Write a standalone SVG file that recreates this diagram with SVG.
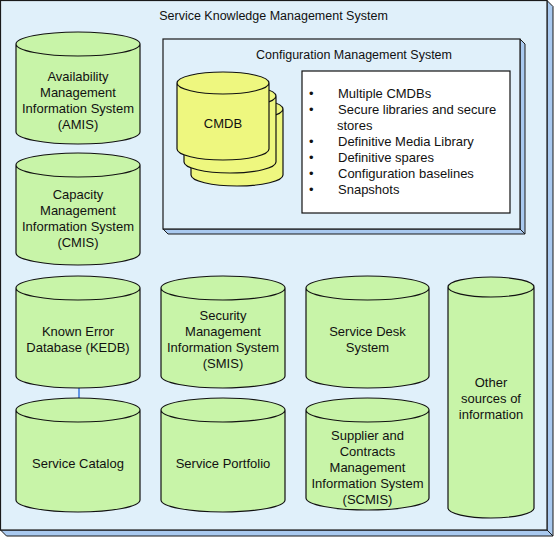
<svg xmlns="http://www.w3.org/2000/svg" width="554" height="537" viewBox="0 0 554 537">
<style>
.frame{fill:#e0f0fa;stroke:#1a1a1a;stroke-width:1.2}
.shadow{fill:#a9c9ef;stroke:#1a1a1a;stroke-width:1}
.cyl{fill:#c8f4a8;stroke:#111;stroke-width:1.2}
.ycyl{fill:#eef77f;stroke:#111;stroke-width:1.2}
.t{font-family:"Liberation Sans",Arial,sans-serif;font-size:13px;fill:#111;text-anchor:middle}
.h{font-family:"Liberation Sans",Arial,sans-serif;font-size:12.5px;fill:#111;text-anchor:middle}
.l{font-family:"Liberation Sans",Arial,sans-serif;font-size:13px;fill:#111}
.conn{stroke:#3a7ae0;stroke-width:1.5;fill:none}
</style>
<g id="skms">
<polygon class="shadow" points="547,0.5 553,6.5 553,536 547,530"/>
<polygon class="shadow" points="0.5,530 6.5,536 553,536 547,530"/>
<rect class="frame" x="0.5" y="0.5" width="546.5" height="529.5"/>
<text class="h" x="273.5" y="20">Service Knowledge Management System</text>
</g>
<g id="cms">
<polygon class="shadow" points="520,39 525,44 525,234 520,229"/>
<polygon class="shadow" points="163,229 168,234 525,234 520,229"/>
<rect class="frame" x="163" y="39" width="357" height="190"/>
<text class="h" x="354" y="59">Configuration Management System</text>
</g>
<g id="cmdb">
<path class="ycyl" d="M191,109 V175 A46,11 0 0 0 283,175 V109 A46,11 0 0 0 191,109 Z M191,109 A46,11 0 0 0 283,109"/>
<path class="ycyl" d="M184,96 V162 A46,11 0 0 0 276,162 V96 A46,11 0 0 0 184,96 Z M184,96 A46,11 0 0 0 276,96"/>
<path class="ycyl" d="M177,83 V149 A46,11 0 0 0 269,149 V83 A46,11 0 0 0 177,83 Z M177,83 A46,11 0 0 0 269,83"/>
<text class="t" x="223" y="128">CMDB</text>
</g>
<g id="cms-list">
<rect x="302" y="71" width="208" height="142" fill="#fff" stroke="#111" stroke-width="1.2"/>
<g class="l">
<text x="309" y="98">•</text><text x="338" y="98">Multiple CMDBs</text>
<text x="309" y="114">•</text><text x="338" y="114">Secure libraries and secure</text>
<text x="337" y="130">stores</text>
<text x="309" y="146">•</text><text x="338" y="146">Definitive Media Library</text>
<text x="309" y="162">•</text><text x="338" y="162">Definitive spares</text>
<text x="309" y="178">•</text><text x="338" y="178">Configuration baselines</text>
<text x="309" y="194">•</text><text x="338" y="194">Snapshots</text>
</g>
</g>
<g id="connectors">
<line class="conn" x1="79" y1="388" x2="79" y2="398"/>
</g>
<g id="amis">
<path class="cyl" d="M16,44 V132 A62,12 0 0 0 140,132 V44 A62,12 0 0 0 16,44 Z M16,44 A62,12 0 0 0 140,44"/>
<text class="t" x="78" y="81">Availability</text>
<text class="t" x="78" y="97">Management</text>
<text class="t" x="78" y="113">Information System</text>
<text class="t" x="78" y="129">(AMIS)</text>
</g>
<g id="cmis">
<path class="cyl" d="M16,165 V253 A62,12 0 0 0 140,253 V165 A62,12 0 0 0 16,165 Z M16,165 A62,12 0 0 0 140,165"/>
<text class="t" x="78" y="199">Capacity</text>
<text class="t" x="78" y="215">Management</text>
<text class="t" x="78" y="231">Information System</text>
<text class="t" x="78" y="247">(CMIS)</text>
</g>
<g id="kedb">
<path class="cyl" d="M16,288 V376 A62,12 0 0 0 140,376 V288 A62,12 0 0 0 16,288 Z M16,288 A62,12 0 0 0 140,288"/>
<text class="t" x="78" y="336">Known Error</text>
<text class="t" x="78" y="352">Database (KEDB)</text>
</g>
<g id="catalog">
<path class="cyl" d="M16,410 V500 A62,12 0 0 0 140,500 V410 A62,12 0 0 0 16,410 Z M16,410 A62,12 0 0 0 140,410"/>
<text class="t" x="78" y="468">Service Catalog</text>
</g>
<g id="smis">
<path class="cyl" d="M161,288 V376 A62,12 0 0 0 285,376 V288 A62,12 0 0 0 161,288 Z M161,288 A62,12 0 0 0 285,288"/>
<text class="t" x="223" y="320">Security</text>
<text class="t" x="223" y="336">Management</text>
<text class="t" x="223" y="352">Information System</text>
<text class="t" x="223" y="368">(SMIS)</text>
</g>
<g id="portfolio">
<path class="cyl" d="M161,410 V500 A62,12 0 0 0 285,500 V410 A62,12 0 0 0 161,410 Z M161,410 A62,12 0 0 0 285,410"/>
<text class="t" x="223" y="468">Service Portfolio</text>
</g>
<g id="servicedesk">
<path class="cyl" d="M306,288 V376 A61.5,12 0 0 0 429,376 V288 A61.5,12 0 0 0 306,288 Z M306,288 A61.5,12 0 0 0 429,288"/>
<text class="t" x="367.5" y="336">Service Desk</text>
<text class="t" x="367.5" y="352">System</text>
</g>
<g id="scmis">
<path class="cyl" d="M306,410 V498 A61.5,12 0 0 0 429,498 V410 A61.5,12 0 0 0 306,410 Z M306,410 A61.5,12 0 0 0 429,410"/>
<text class="t" x="367.5" y="440">Supplier and</text>
<text class="t" x="367.5" y="456">Contracts</text>
<text class="t" x="367.5" y="472">Management</text>
<text class="t" x="367.5" y="488">Information System</text>
<text class="t" x="367.5" y="504">(SCMIS)</text>
</g>
<g id="other">
<path class="cyl" d="M448,287 V508 A43,10 0 0 0 534,508 V287 A43,10 0 0 0 448,287 Z M448,287 A43,10 0 0 0 534,287"/>
<text class="t" x="491" y="387">Other</text>
<text class="t" x="491" y="403">sources of</text>
<text class="t" x="491" y="419">information</text>
</g>
</svg>
